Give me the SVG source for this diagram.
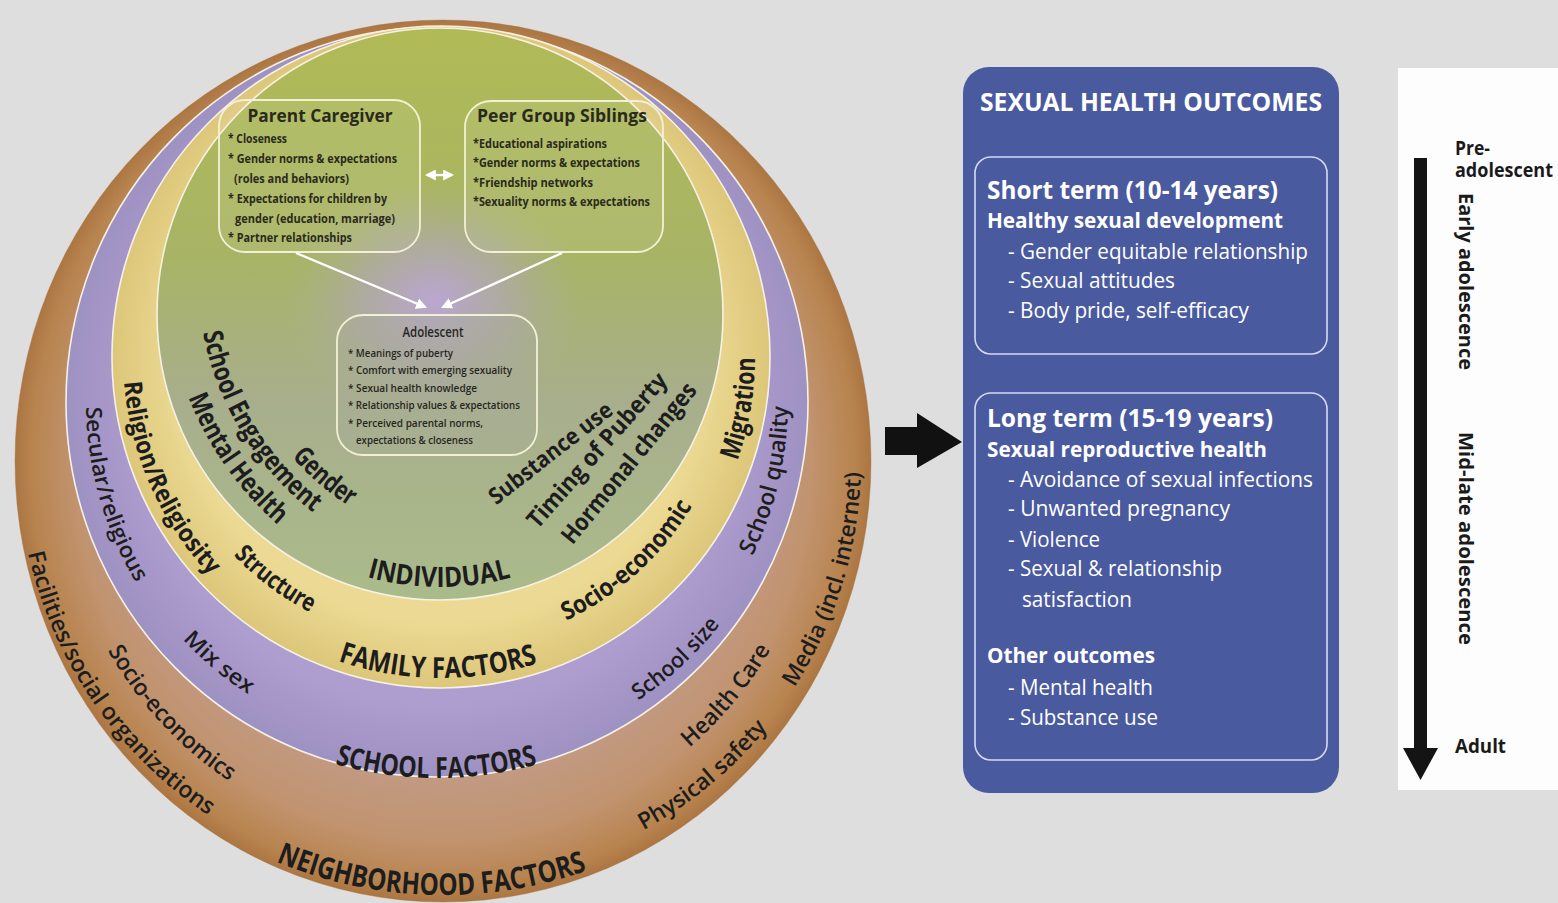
<svg xmlns="http://www.w3.org/2000/svg" width="1558" height="903" viewBox="0 0 1558 903">
<style>
.lbl{font-family:"Open Sans","Liberation Sans",sans-serif;font-weight:700;fill:#1d1d1d}
.lbs{font-family:"Open Sans","Liberation Sans",sans-serif;font-weight:600;fill:#1d1d1d}
.box{fill:#ffffff;fill-opacity:0.07;stroke:#f2f1d6;stroke-width:1.8}
.bt{font-family:"Open Sans","Liberation Sans",sans-serif;font-weight:700;fill:#2a2a1c}
.at{font-family:"Open Sans","Liberation Sans",sans-serif;font-weight:600;fill:#26261e}
.sep{fill:none;stroke:#f6f1e6;stroke-width:1.6}
.wt{font-family:"Open Sans","Liberation Sans",sans-serif;fill:#ffffff}
.ib{fill:none;stroke:#d4daf4;stroke-width:1.6}
.tl{font-family:"Open Sans","Liberation Sans",sans-serif;font-weight:700;fill:#1a1a1a}
.con{stroke:#ffffff;stroke-width:2.4;fill:none}
</style>
<defs>
<radialGradient id="gBrown" cx="0.5" cy="0.5" r="0.5">
<stop offset="0.72" stop-color="#c29a82"/>
<stop offset="0.86" stop-color="#c1936f"/>
<stop offset="0.96" stop-color="#b8844f"/>
<stop offset="1" stop-color="#ac7643"/>
</radialGradient>
<radialGradient id="gPurple" cx="0.5" cy="0.5" r="0.5">
<stop offset="0.8" stop-color="#ae9ecf"/>
<stop offset="0.93" stop-color="#a595c6"/>
<stop offset="1" stop-color="#9d92c3"/>
</radialGradient>
<radialGradient id="gYellow" cx="0.5" cy="0.5" r="0.5">
<stop offset="0.8" stop-color="#ecda94"/>
<stop offset="1" stop-color="#dcc679"/>
</radialGradient>
<linearGradient id="gGreen" x1="0" y1="0" x2="0" y2="1">
<stop offset="0" stop-color="#b0ba56"/>
<stop offset="0.4" stop-color="#a8b465"/>
<stop offset="0.65" stop-color="#a8ae8c"/>
<stop offset="1" stop-color="#aabb8a"/>
</linearGradient>
<radialGradient id="gGlow" cx="0.5" cy="0.5" r="0.5">
<stop offset="0" stop-color="#bca5d8" stop-opacity="0.95"/>
<stop offset="0.5" stop-color="#b3a4c8" stop-opacity="0.5"/>
<stop offset="1" stop-color="#aab0a0" stop-opacity="0"/>
</radialGradient>
<marker id="ah" viewBox="0 0 10 10" refX="8" refY="5" markerWidth="11" markerHeight="11" markerUnits="userSpaceOnUse" orient="auto-start-reverse">
<path d="M0,0 L10,5 L0,10 z" fill="#ffffff"/>
</marker>
<path id="pNeigh" d="M276.2,861.7 A434,434 0 0 0 592.2,868.6"/>
<path id="pSchool" d="M335,763.9 A376,376 0 0 0 542,763"/>
<path id="pFamily" d="M338,661 A321,321 0 0 0 542,661.7"/>
<path id="pIndiv" d="M367,577 A273,273 0 0 0 513,577"/>
<path id="pFacil" d="M28.1,553 A425,425 0 0 0 211.5,817.4"/>
<path id="pSocioN" d="M107.9,650.6 A385,385 0 0 0 236.1,785.7"/>
<path id="pSecular" d="M86,406.9 A351,351 0 0 0 137.7,585.4"/>
<path id="pMix" d="M182.5,639.3 A348,348 0 0 0 252.6,697.1"/>
<path id="pRelig" d="M124,382 A318,318 0 0 0 212.3,577.9"/>
<path id="pStruct" d="M233.5,555.3 A287,287 0 0 0 311.6,613.2"/>
<path id="pSocioF" d="M566.2,620.8 A292,292 0 0 0 694.4,502.1"/>
<path id="pMigr" d="M737.4,460.8 A314,314 0 0 0 754.9,349.9"/>
<path id="pSQual" d="M752.5,555.9 A351,351 0 0 0 787.9,392.8"/>
<path id="pSSize" d="M638.3,700.4 A360,360 0 0 0 726.4,616.1"/>
<path id="pMedia" d="M794.4,687.4 A418,418 0 0 0 861,461"/>
<path id="pHealth" d="M689.5,747.6 A378,378 0 0 0 774.2,643.1"/>
<path id="pPhys" d="M643.4,830.1 A420,420 0 0 0 771.7,722.5"/>
<path id="pSchEng" d="M203.1,332.9 A298,298 0 0 0 317.3,515.7"/>
<path id="pMental" d="M188.5,397.5 A330,330 0 0 0 281.5,528"/>
<path id="pGender" d="M291.8,457 A272,272 0 0 0 351.3,507.5"/>
</defs>

<rect width="1558" height="903" fill="#dedede"/>

<g id="rings">
<ellipse cx="443" cy="461" rx="428" ry="441" fill="url(#gBrown)" stroke="#a87442" stroke-opacity="0.4" stroke-width="1"/>
<ellipse cx="437" cy="402" rx="371" ry="375" class="sep" style="fill:url(#gPurple)"/>
<ellipse cx="441" cy="357" rx="329" ry="331" class="sep" style="fill:url(#gYellow)"/>
<ellipse cx="440" cy="314" rx="283" ry="286" class="sep" style="fill:url(#gGreen)"/>
<ellipse cx="434" cy="300" rx="150" ry="120" fill="url(#gGlow)"/>
</g>

<g id="node-parent">
<rect class="box" x="219" y="100" width="201" height="152" rx="26"/>
<text class="bt" x="320" y="122" text-anchor="middle" font-size="17" textLength="145" lengthAdjust="spacingAndGlyphs">Parent Caregiver</text>
<text class="bt" x="228" y="143" font-size="12.5" textLength="59" lengthAdjust="spacingAndGlyphs">* Closeness</text>
<text class="bt" x="228" y="163" font-size="12.5" textLength="169" lengthAdjust="spacingAndGlyphs">* Gender norms &amp; expectations</text>
<text class="bt" x="234" y="183" font-size="12.5" textLength="115" lengthAdjust="spacingAndGlyphs">(roles and behaviors)</text>
<text class="bt" x="228" y="203" font-size="12.5" textLength="159" lengthAdjust="spacingAndGlyphs">* Expectations for children by</text>
<text class="bt" x="235" y="223" font-size="12.5" textLength="160" lengthAdjust="spacingAndGlyphs">gender (education, marriage)</text>
<text class="bt" x="228" y="242" font-size="12.5" textLength="124" lengthAdjust="spacingAndGlyphs">* Partner relationships</text>
</g>

<g id="node-peer">
<rect class="box" x="465" y="101" width="198" height="151" rx="26"/>
<text class="bt" x="562" y="122" text-anchor="middle" font-size="17" textLength="170" lengthAdjust="spacingAndGlyphs">Peer Group Siblings</text>
<text class="bt" x="473" y="148" font-size="12.5" textLength="134" lengthAdjust="spacingAndGlyphs">*Educational aspirations</text>
<text class="bt" x="473" y="167" font-size="12.5" textLength="167" lengthAdjust="spacingAndGlyphs">*Gender norms &amp; expectations</text>
<text class="bt" x="473" y="187" font-size="12.5" textLength="120" lengthAdjust="spacingAndGlyphs">*Friendship networks</text>
<text class="bt" x="473" y="206" font-size="12.5" textLength="177" lengthAdjust="spacingAndGlyphs">*Sexuality norms &amp; expectations</text>
</g>

<g id="node-adolescent">
<rect class="box" x="337" y="315" width="200" height="140" rx="26" style="fill:#a8ab9c;fill-opacity:0.35"/>
<text class="at" x="433" y="337" text-anchor="middle" font-size="14.5" textLength="61" lengthAdjust="spacingAndGlyphs">Adolescent</text>
<text class="at" x="348" y="357" font-size="10.5" textLength="105" lengthAdjust="spacingAndGlyphs">* Meanings of puberty</text>
<text class="at" x="348" y="374" font-size="10.5" textLength="164" lengthAdjust="spacingAndGlyphs">* Comfort with emerging sexuality</text>
<text class="at" x="348" y="392" font-size="10.5" textLength="129" lengthAdjust="spacingAndGlyphs">* Sexual health knowledge</text>
<text class="at" x="348" y="409" font-size="10.5" textLength="172" lengthAdjust="spacingAndGlyphs">* Relationship values &amp; expectations</text>
<text class="at" x="348" y="427" font-size="10.5" textLength="135" lengthAdjust="spacingAndGlyphs">* Perceived parental norms,</text>
<text class="at" x="356" y="444" font-size="10.5" textLength="117" lengthAdjust="spacingAndGlyphs">expectations &amp; closeness</text>
</g>

<g id="connectors">
<line class="con" x1="427" y1="175" x2="452" y2="175" marker-start="url(#ah)" marker-end="url(#ah)"/>
<line class="con" x1="296" y1="253" x2="425" y2="307" marker-end="url(#ah)"/>
<line class="con" x1="562" y1="253" x2="443" y2="307" marker-end="url(#ah)"/>
</g>

<g id="ring-labels">
<text class="lbl" font-size="30"><textPath href="#pNeigh" textLength="318" lengthAdjust="spacingAndGlyphs">NEIGHBORHOOD FACTORS</textPath></text>
<text class="lbl" font-size="29"><textPath href="#pSchool" textLength="205" lengthAdjust="spacingAndGlyphs">SCHOOL FACTORS</textPath></text>
<text class="lbl" font-size="29"><textPath href="#pFamily" textLength="203" lengthAdjust="spacingAndGlyphs">FAMILY FACTORS</textPath></text>
<text class="lbl" font-size="28"><textPath href="#pIndiv" textLength="146" lengthAdjust="spacingAndGlyphs">INDIVIDUAL</textPath></text>
<text class="lbs" font-size="23"><textPath href="#pFacil" textLength="326" lengthAdjust="spacingAndGlyphs">Facilities/social organizations</textPath></text>
<text class="lbs" font-size="23"><textPath href="#pSocioN" textLength="180" lengthAdjust="spacingAndGlyphs">Socio-economics</textPath></text>
<text class="lbs" font-size="22"><textPath href="#pSecular" textLength="185" lengthAdjust="spacingAndGlyphs">Secular/religious</textPath></text>
<text class="lbs" font-size="22"><textPath href="#pMix" textLength="86" lengthAdjust="spacingAndGlyphs">Mix sex</textPath></text>
<text class="lbl" font-size="25"><textPath href="#pRelig" textLength="216" lengthAdjust="spacingAndGlyphs">Religion/Religiosity</textPath></text>
<text class="lbl" font-size="25"><textPath href="#pStruct" textLength="96" lengthAdjust="spacingAndGlyphs">Structure</textPath></text>
<text class="lbl" font-size="25"><textPath href="#pSocioF" textLength="173" lengthAdjust="spacingAndGlyphs">Socio-economic</textPath></text>
<text class="lbl" font-size="27"><textPath href="#pMigr" textLength="105" lengthAdjust="spacingAndGlyphs">Migration</textPath></text>
<text class="lbs" font-size="23"><textPath href="#pSQual" textLength="155" lengthAdjust="spacingAndGlyphs">School quality</textPath></text>
<text class="lbs" font-size="22"><textPath href="#pSSize" textLength="112" lengthAdjust="spacingAndGlyphs">School size</textPath></text>
<text class="lbs" font-size="23"><textPath href="#pMedia" textLength="228" lengthAdjust="spacingAndGlyphs">Media (incl. internet)</textPath></text>
<text class="lbs" font-size="23"><textPath href="#pHealth" textLength="128" lengthAdjust="spacingAndGlyphs">Health Care</textPath></text>
<text class="lbs" font-size="23"><textPath href="#pPhys" textLength="162" lengthAdjust="spacingAndGlyphs">Physical safety</textPath></text>
<text class="lbl" font-size="27"><textPath href="#pSchEng" textLength="215" lengthAdjust="spacingAndGlyphs">School Engagement</textPath></text>
<text class="lbl" font-size="27"><textPath href="#pMental" textLength="157" lengthAdjust="spacingAndGlyphs">Mental Health</textPath></text>
<text class="lbl" font-size="27"><textPath href="#pGender" textLength="76" lengthAdjust="spacingAndGlyphs">Gender</textPath></text>
<text class="lbl" font-size="23" transform="translate(492,500) rotate(-38)" dy="0.3em" textLength="150" lengthAdjust="spacingAndGlyphs">Substance use</text>
<text class="lbl" font-size="24" transform="translate(532,525) rotate(-48.5)" dy="0.3em" textLength="198" lengthAdjust="spacingAndGlyphs">Timing of Puberty</text>
<text class="lbl" font-size="24" transform="translate(567,541) rotate(-51)" dy="0.3em" textLength="199" lengthAdjust="spacingAndGlyphs">Hormonal changes</text>
</g>

<g id="outcome-arrow">
<polygon points="885,427 917,427 917,413 962,442 917,468 917,455 885,455" fill="#111111"/>
</g>

<g id="outcomes">
<rect x="963" y="67" width="376" height="726" rx="26" fill="#4a5a9f"/>
<text class="wt" x="980" y="111" font-size="25" font-weight="700" textLength="342" lengthAdjust="spacingAndGlyphs">SEXUAL HEALTH OUTCOMES</text>
<rect class="ib" x="975" y="157" width="352" height="197" rx="16"/>
<text class="wt" x="987" y="199" font-size="25" font-weight="700" textLength="291" lengthAdjust="spacingAndGlyphs">Short term (10-14 years)</text>
<text class="wt" x="987" y="228" font-size="21" font-weight="700" textLength="296" lengthAdjust="spacingAndGlyphs">Healthy sexual development</text>
<text class="wt" x="1008" y="259" font-size="22" textLength="300" lengthAdjust="spacingAndGlyphs">- Gender equitable relationship</text>
<text class="wt" x="1008" y="288" font-size="22" textLength="167" lengthAdjust="spacingAndGlyphs">- Sexual attitudes</text>
<text class="wt" x="1008" y="318" font-size="22" textLength="241" lengthAdjust="spacingAndGlyphs">- Body pride, self-efficacy</text>
<rect class="ib" x="975" y="393" width="352" height="367" rx="16"/>
<text class="wt" x="987" y="427" font-size="25" font-weight="700" textLength="286" lengthAdjust="spacingAndGlyphs">Long term (15-19 years)</text>
<text class="wt" x="987" y="457" font-size="21" font-weight="700" textLength="280" lengthAdjust="spacingAndGlyphs">Sexual reproductive health</text>
<text class="wt" x="1008" y="487" font-size="22" textLength="305" lengthAdjust="spacingAndGlyphs">- Avoidance of sexual infections</text>
<text class="wt" x="1008" y="516" font-size="22" textLength="222" lengthAdjust="spacingAndGlyphs">- Unwanted pregnancy</text>
<text class="wt" x="1008" y="547" font-size="22" textLength="92" lengthAdjust="spacingAndGlyphs">- Violence</text>
<text class="wt" x="1008" y="576" font-size="22" textLength="214" lengthAdjust="spacingAndGlyphs">- Sexual &amp; relationship</text>
<text class="wt" x="1022" y="607" font-size="22" textLength="110" lengthAdjust="spacingAndGlyphs">satisfaction</text>
<text class="wt" x="987" y="663" font-size="21" font-weight="700" textLength="168" lengthAdjust="spacingAndGlyphs">Other outcomes</text>
<text class="wt" x="1008" y="695" font-size="22" textLength="145" lengthAdjust="spacingAndGlyphs">- Mental health</text>
<text class="wt" x="1008" y="725" font-size="22" textLength="150" lengthAdjust="spacingAndGlyphs">- Substance use</text>
</g>

<g id="timeline">
<rect x="1398" y="68" width="160" height="722" fill="#fdfdfd"/>
<rect x="1414" y="158" width="13" height="592" fill="#141414"/>
<polygon points="1403,748 1438,748 1420.5,780" fill="#141414"/>
<text class="tl" x="1455" y="155" font-size="20" textLength="35" lengthAdjust="spacingAndGlyphs">Pre-</text>
<text class="tl" x="1455" y="177" font-size="20" textLength="98" lengthAdjust="spacingAndGlyphs">adolescent</text>
<text class="tl" font-size="19" transform="translate(1459,193) rotate(90)" textLength="177" lengthAdjust="spacingAndGlyphs">Early adolescence</text>
<text class="tl" font-size="19" transform="translate(1459,432) rotate(90)" textLength="213" lengthAdjust="spacingAndGlyphs">Mid-late adolescence</text>
<text class="tl" x="1455" y="753" font-size="20" textLength="51" lengthAdjust="spacingAndGlyphs">Adult</text>
</g>
</svg>
